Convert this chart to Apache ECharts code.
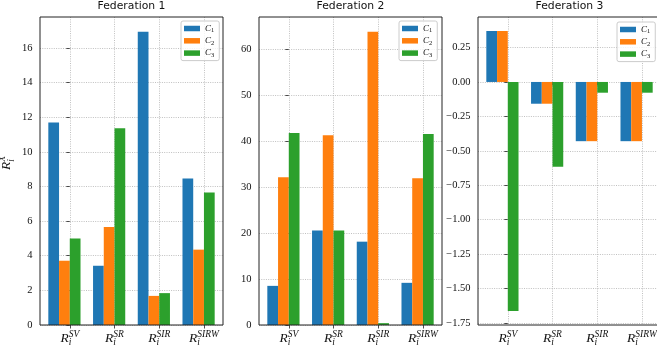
<!DOCTYPE html>
<html>
<head>
<meta charset="utf-8">
<script src="https://cdn.jsdelivr.net/npm/echarts@6/dist/echarts.min.js"></script>
<style>
  html, body { margin: 0; padding: 0; background: #fff; }
  #chart { width: 657px; height: 350px; }
</style>
</head>
<body>
<div id="chart"></div>
<script>
// Epidemic model variants on the x axis, one bar per client
const models = ['SV', 'SR', 'SIR', 'SIRW'];
const clients = ['C1', 'C2', 'C3'];
const titles = ['Federation 1', 'Federation 2', 'Federation 3'];

// R_i^X per client and model
const fed1C1 = [11.69, 3.42, 16.93, 8.46];
const fed1C2 = [3.71, 5.66, 1.68, 4.35];
const fed1C3 = [4.99, 11.36, 1.84, 7.65];

const fed2C1 = [8.5, 20.5, 18.1, 9.16];
const fed2C2 = [32.1, 41.2, 63.7, 31.9];
const fed2C3 = [41.7, 20.5, 0.4, 41.5];

const fed3C1 = [0.37, -0.158, -0.43, -0.43];
const fed3C2 = [0.37, -0.158, -0.43, -0.43];
const fed3C3 = [-1.663, -0.616, -0.078, -0.078];

// y tick labels per panel
const fed1Ticks = [0, 2, 4, 6, 8, 10, 12, 14, 16];
const fed2Ticks = [0, 10, 20, 30, 40, 50, 60];
const fed3Ticks = [-1.75, -1.5, -1.25, -1.0, -0.75, -0.5, -0.25, 0.0, 0.25];
const modelTicks = [0, 1, 2, 3];

const panels = [
  { series: [fed1C1, fed1C2, fed1C3], ticks: fed1Ticks, min: 0, max: 17.78, digits: 0 },
  { series: [fed2C1, fed2C2, fed2C3], ticks: fed2Ticks, min: 0, max: 66.9, digits: 0 },
  { series: [fed3C1, fed3C2, fed3C3], ticks: fed3Ticks, min: -1.7647, max: 0.4717, digits: 2 }
];

const colors = ['#1f77b4', '#ff7f0e', '#2ca02c'];
const SERIF = 'Liberation Serif';
const INK = '#111';
const GRID_LEFT = 40, GRID_STEP = 219, GRID_W = 183, GRID_TOP = 17, GRID_H = 308;

// Math-style label: R with subscript i and a superscript, stacked over three rows
const mathRich = {
  g:   { fontFamily: SERIF, fontStyle: 'italic', fontSize: 13.5, lineHeight: 4, align: 'left', color: 'transparent' },
  p:   { fontFamily: SERIF, fontStyle: 'italic', fontSize: 9.5, lineHeight: 4, align: 'left', color: INK },
  r:   { fontFamily: SERIF, fontStyle: 'italic', fontSize: 13.5, lineHeight: 4, align: 'left', color: INK },
  gb:  { fontFamily: SERIF, fontStyle: 'italic', fontSize: 13.5, lineHeight: 5, align: 'left', color: 'transparent' },
  b:   { fontFamily: SERIF, fontStyle: 'italic', fontSize: 9.5, lineHeight: 5, align: 'left', color: INK }
};
const mathLabel = sup => `{g|R}{p|${sup}}\n{r|R}\n{gb|R}{b|i}`;

const fmtNum = (v, digits) => {
  const s = Math.abs(v).toFixed(digits);
  return (v < 0 ? '\u2212' : '') + s;
};

const grid = [], xAxis = [], yAxis = [], series = [], title = [], legend = [];

panels.forEach((pn, p) => {
  const left = GRID_LEFT + p * GRID_STEP;
  grid.push({
    left: left, top: GRID_TOP, width: GRID_W, height: GRID_H,
    show: true, borderColor: '#222', borderWidth: 1, backgroundColor: 'transparent',
    z: 3, containLabel: false, outerBoundsMode: 'none'
  });
  title.push({
    text: titles[p], left: left + GRID_W / 2, top: 1, textAlign: 'center', padding: 0,
    textStyle: { fontFamily: 'DejaVu Sans', fontSize: 10.8, fontWeight: 'normal', color: INK }
  });
  xAxis.push({
    type: 'value', gridIndex: p, min: -0.666, max: 3.426,
    axisLine: { show: false },
    axisTick: { show: true, length: 3.5, customValues: modelTicks, lineStyle: { color: '#222', width: 0.8 } },
    axisLabel: {
      customValues: modelTicks, margin: 7,
      formatter: v => mathLabel(models[Math.round(v)]),
      rich: mathRich
    },
    splitLine: { show: true, lineStyle: { color: '#b0b0b0', width: 0.8, type: [1, 1.3] } }
  });
  const ya = {
    type: 'value', gridIndex: p, min: pn.min, max: pn.max,
    axisLine: { show: false },
    axisTick: { show: true, length: 3.5, customValues: pn.ticks, lineStyle: { color: '#222', width: 0.8 } },
    axisLabel: {
      customValues: pn.ticks, margin: 7.5,
      fontFamily: SERIF, fontSize: 10.5, color: INK,
      formatter: v => fmtNum(v, pn.digits)
    },
    splitLine: { show: true, lineStyle: { color: '#b0b0b0', width: 0.8, type: [1, 1.3] } }
  };
  if (p === 0) {
    Object.assign(ya, {
      name: mathLabel('X'), nameLocation: 'middle', nameGap: 22,
      nameTextStyle: { rich: mathRich, padding: [0, 0, 0, 16] }
    });
  }
  yAxis.push(ya);

  pn.series.forEach((vals, c) => {
    series.push({
      name: clients[c], type: 'bar', xAxisIndex: p, yAxisIndex: p,
      barWidth: '24%', barGap: '0%',
      itemStyle: { color: colors[c] },
      data: vals.map((v, i) => [i, v])
    });
  });
  // empty fourth slot keeps each group to the left of its tick
  series.push({
    name: 'spacer', type: 'bar', xAxisIndex: p, yAxisIndex: p,
    barWidth: '24%', barGap: '0%', silent: true, data: []
  });

  legend.push({
    data: clients, orient: 'vertical',
    left: [181, 399, 617][p], top: [21, 21, 22][p],
    itemWidth: 16, itemHeight: 5.5, itemGap: 1.3,
    icon: 'rect',
    padding: [2, 5, 2, 3],
    borderColor: '#cccccc', borderWidth: 1, borderRadius: 2,
    backgroundColor: 'rgba(255,255,255,0.8)',
    selectedMode: false,
    formatter: n => `{c|C}{s|${n.slice(1)}}`,
    textStyle: {
      rich: {
        c: { fontFamily: SERIF, fontStyle: 'italic', fontSize: 9, lineHeight: 10, color: INK },
        s: { fontFamily: SERIF, fontSize: 6.5, lineHeight: 10, padding: [4, 0, 0, 0], color: INK }
      }
    }
  });
});

const chart = echarts.init(document.getElementById('chart'), null, { renderer: 'canvas' });
chart.setOption({
  animation: false,
  backgroundColor: '#fff',
  color: colors,
  title, grid, xAxis, yAxis, legend, series
});
</script>
</body>
</html>
